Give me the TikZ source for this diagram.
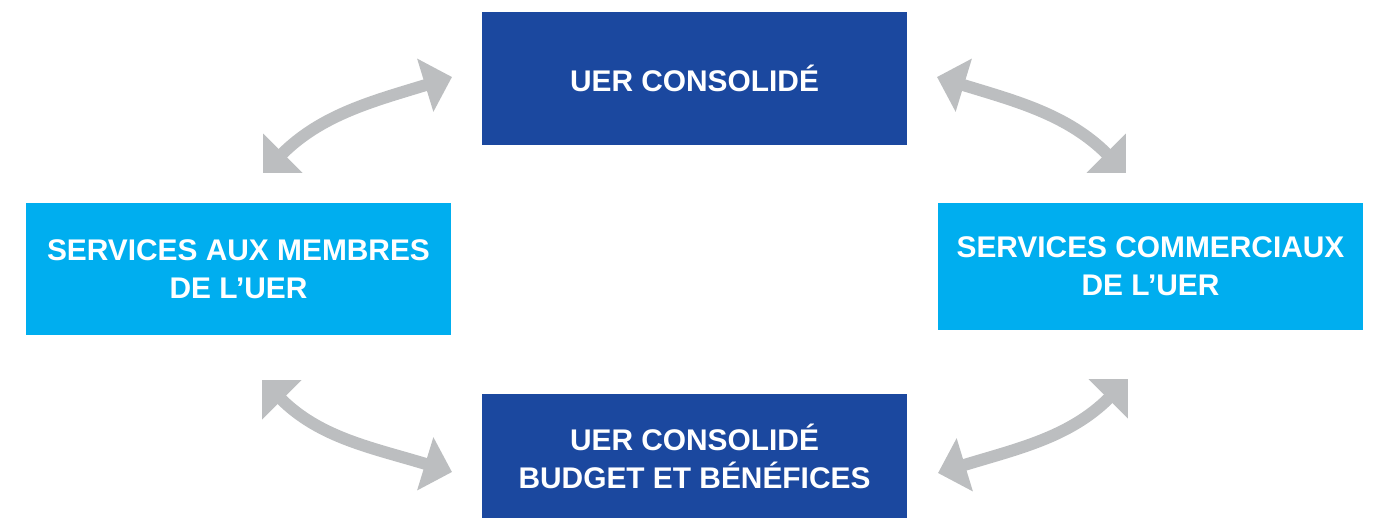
\documentclass[tikz,border=0pt]{standalone}
\usepackage{fontspec}
\setmainfont{Liberation Sans}
\usetikzlibrary{arrows.meta}
\definecolor{uerdark}{HTML}{1B489F}
\definecolor{uerlight}{HTML}{00AEEF}
\definecolor{uergrey}{HTML}{BCBEC0}
\begin{document}
\begin{tikzpicture}[
    box/.style={rectangle, text=white, align=center, minimum width=8.5cm,
        font=\fontsize{17pt}{21.6pt}\selectfont\bfseries},
    link/.style={uergrey, line width=0.24cm,
        {Triangle[length=0.56cm,width=1.08cm]}-{Triangle[length=0.56cm,width=1.08cm]}}]
    \useasboundingbox (0,0) rectangle (27.52,-10.38);
    \node[box, fill=uerdark, minimum height=2.66cm] (consolide) at (13.89,-1.57) {UER CONSOLIDÉ};
    \node[box, fill=uerlight, minimum height=2.64cm] (membres) at (4.77,-5.38) {SERVICES AUX MEMBRES\\DE L’UER};
    \node[box, fill=uerlight, minimum height=2.54cm] (commerciaux) at (23.01,-5.33) {SERVICES COMMERCIAUX\\DE L’UER};
    \node[box, fill=uerdark, minimum height=2.48cm] (budget) at (13.89,-9.12) {UER CONSOLIDÉ\\BUDGET ET BÉNÉFICES};
    \coordinate (tl1) at (5.26,-3.46);
    \coordinate (tl2) at (9.04,-1.54);
    \coordinate (tr1) at (22.52,-3.46);
    \coordinate (tr2) at (18.74,-1.54);
    \coordinate (bl1) at (5.24,-7.60);
    \coordinate (bl2) at (9.04,-9.44);
    \coordinate (br1) at (22.56,-7.58);
    \coordinate (br2) at (18.76,-9.46);
    \draw[link] (tl1) to[out=45, in=197] (tl2);
    \draw[link] (tr1) to[out=135, in=-17] (tr2);
    \draw[link] (bl1) to[out=-45, in=163] (bl2);
    \draw[link] (br1) to[out=-135, in=17] (br2);
\end{tikzpicture}
\end{document}
